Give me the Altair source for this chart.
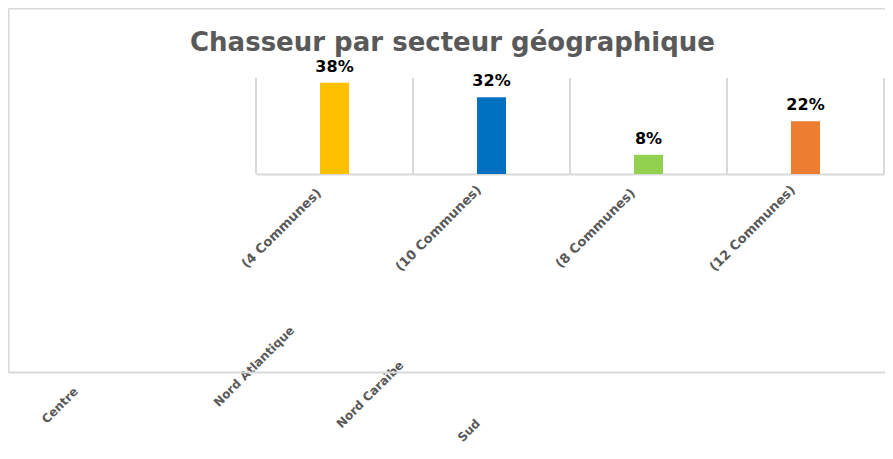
import altair as alt
import pandas as pd

# ---- data ----
regions = ["Centre", "Nord Atlantique", "Nord Caraïbe", "Sud"]
communes = ["(4 Communes)", "(10 Communes)", "(8 Communes)", "(12 Communes)"]
shares = [0.38, 0.32, 0.08, 0.22]
colors = ["#FFC000", "#0070C0", "#92D050", "#ED7D31"]
title_text = "Chasseur par secteur géographique"

df = pd.DataFrame({"region": regions, "communes": communes, "share": shares})

# ---- styling ----
GRAY = "#595959"
LINE = "#D9D9D9"
FONT = "DejaVu Sans"

W, H = 877, 364
x_range = [248, 876]
y_range = [166, 70]
y_top = 0.4
axis_offset = y_range[0] - H

# offsets of the (misplaced) region-name line of each label
region_dx = {"Centre": -275, "Nord Atlantique": -238, "Nord Caraïbe": -279, "Sud": -337}
region_dy = {"Centre": 231, "Nord Atlantique": 192, "Nord Caraïbe": 220, "Sud": 256}


def cond(m):
    return {
        "condition": [{"test": f"datum.value === '{k}'", "value": v} for k, v in m.items()],
        "value": 0,
    }


def js_list(items):
    return "[" + ",".join("'" + s + "'" for s in items) + "]"


communes_expr = f"{js_list(communes)}[indexof({js_list(regions)}, datum.value)]"


def xs():
    return alt.Scale(domain=regions, range=x_range, paddingInner=0, paddingOuter=0)


def ys():
    return alt.Scale(domain=[0, y_top], range=y_range, nice=False)


base = alt.Chart(df)

# vertical separators between categories
grid_left = base.mark_rule(color=LINE, strokeWidth=2).encode(
    x=alt.X("region:N", scale=xs(), sort=regions, bandPosition=0, axis=None),
    y=alt.YDatum(0, scale=ys(), axis=None),
    y2=alt.Y2Datum(y_top),
)
grid_end = (
    base.transform_filter(f"datum.region === '{regions[-1]}'")
    .mark_rule(color=LINE, strokeWidth=2)
    .encode(
        x=alt.X("region:N", scale=xs(), sort=regions, bandPosition=1, axis=None),
        y=alt.YDatum(0, scale=ys(), axis=None),
        y2=alt.Y2Datum(y_top),
    )
)

bars = base.mark_bar(width=29).encode(
    x=alt.X(
        "region:N",
        scale=xs(),
        sort=regions,
        axis=alt.Axis(
            orient="bottom",
            offset=axis_offset,
            title=None,
            labelExpr=communes_expr,
            labelAngle=-45,
            labelAlign="center",
            labelBaseline="middle",
            labelOffset=-53,
            labelPadding=54,
            labelColor=GRAY,
            labelFont=FONT,
            labelFontSize=13,
            labelFontWeight="bold",
            ticks=False,
            tickSize=0,
            domainColor=LINE,
            domainWidth=2,
            grid=False,
        ),
    ),
    y=alt.Y("share:Q", scale=ys(), axis=None),
    color=alt.Color("region:N", scale=alt.Scale(domain=regions, range=colors), legend=None),
)

value_labels = base.mark_text(
    dy=-11, baseline="alphabetic", font=FONT, fontSize=16, fontWeight="bold", color="black"
).encode(
    x=alt.X("region:N", scale=xs(), sort=regions, axis=None),
    y=alt.Y("share:Q", scale=ys(), axis=None),
    text=alt.Text("share:Q", format=".0%"),
)

names = base.mark_point(opacity=0).encode(
    x=alt.X(
        "region:N",
        scale=xs(),
        sort=regions,
        axis=alt.Axis(
            orient="bottom",
            offset=axis_offset,
            title=None,
            labelAngle=-45,
            labelAlign="center",
            labelBaseline="middle",
            labelOffset=cond(region_dx),
            labelPadding=cond(region_dy),
            labelColor=GRAY,
            labelFont=FONT,
            labelFontSize=12,
            labelFontWeight="bold",
            ticks=False,
            tickSize=0,
            domain=False,
            grid=False,
        ),
    ),
)

# chart-area border drawn with axis domain lines (left, top, bottom)
frame_axis = dict(labels=False, ticks=False, grid=False, title=None,
                  domainColor=LINE, domainWidth=2)
frame_a = base.mark_point(opacity=0).encode(
    x=alt.X("share:Q", scale=alt.Scale(domain=[0, 1], range=[0, W], nice=False),
            axis=alt.Axis(orient="top", **frame_axis)),
    y=alt.Y("share:Q", scale=alt.Scale(domain=[0, 1], range=[H, 0], nice=False),
            axis=alt.Axis(orient="left", **frame_axis)),
)
frame_b = base.mark_point(opacity=0).encode(
    x=alt.X("share:Q", scale=alt.Scale(domain=[0, 1], range=[0, W], nice=False),
            axis=alt.Axis(orient="bottom", **frame_axis)),
)

chart = (
    alt.layer(grid_left, grid_end, bars, value_labels, names, frame_a, frame_b)
    .resolve_scale(x="independent", y="independent")
    .resolve_axis(x="independent", y="independent")
    .properties(
        width=W,
        height=H,
        title=alt.TitleParams(
            title_text,
            anchor="middle",
            frame="group",
            offset=-69,
            dx=6,
            baseline="alphabetic",
            font=FONT,
            fontSize=26,
            fontWeight="bold",
            color=GRAY,
        ),
        autosize=alt.AutoSizeParams(type="none"),
        padding={"left": 0, "top": 0, "right": 0, "bottom": 78},
    )
    .configure_view(stroke=None)
)

chart.save("out.html", embed_options={"renderer": "svg", "actions": False})
